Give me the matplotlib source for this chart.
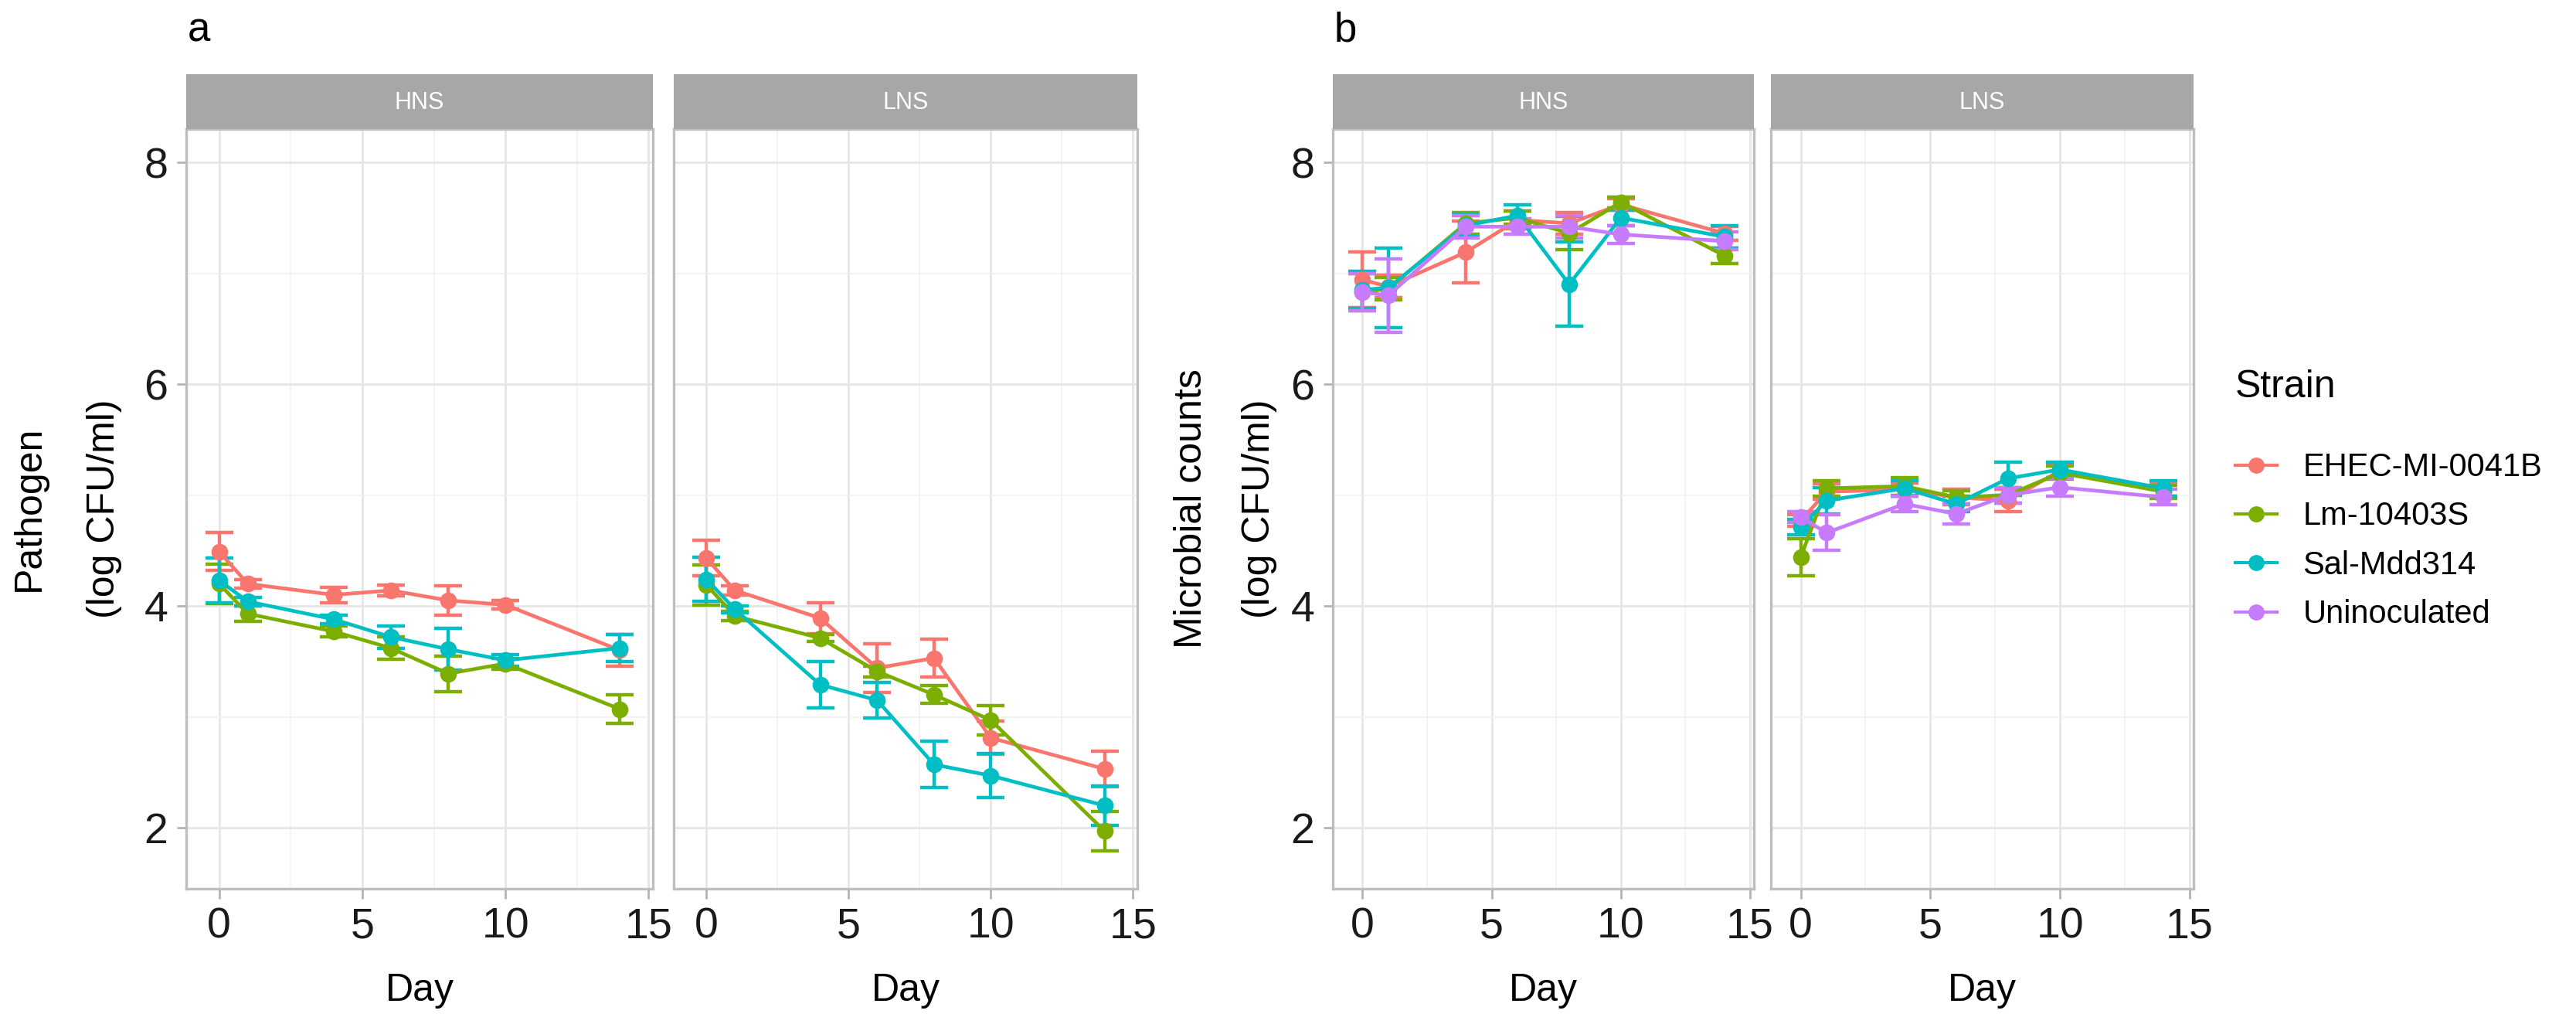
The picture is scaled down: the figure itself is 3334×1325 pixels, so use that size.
import matplotlib
matplotlib.use("Agg")
import matplotlib.pyplot as plt
from matplotlib.lines import Line2D
from matplotlib.ticker import MultipleLocator

plt.rcParams['font.family'] = ['Liberation Sans', 'DejaVu Sans']

# ---------------- data ----------------
days = [0, 1, 4, 6, 8, 10, 14]
strains = ["EHEC-MI-0041B", "Lm-10403S", "Sal-Mdd314", "Uninoculated"]
colors = ["#F8766D", "#7CAE00", "#00BFC4", "#C77CFF"]
facets = ["HNS", "LNS"]

# Panel a: pathogen counts (mean, sd)
a_hns_ehec = [4.49, 4.20, 4.10, 4.14, 4.05, 4.01, 3.60]
a_hns_ehec_sd = [0.17, 0.04, 0.07, 0.05, 0.13, 0.04, 0.14]
a_hns_lm = [4.20, 3.93, 3.77, 3.62, 3.39, 3.48, 3.07]
a_hns_lm_sd = [0.18, 0.07, 0.05, 0.10, 0.16, 0.05, 0.13]
a_hns_sal = [4.23, 4.04, 3.88, 3.72, 3.61, 3.51, 3.62]
a_hns_sal_sd = [0.20, 0.04, 0.04, 0.10, 0.19, 0.05, 0.12]

a_lns_ehec = [4.43, 4.14, 3.89, 3.44, 3.53, 2.81, 2.53]
a_lns_ehec_sd = [0.16, 0.04, 0.14, 0.22, 0.17, 0.15, 0.16]
a_lns_lm = [4.19, 3.91, 3.71, 3.41, 3.20, 2.97, 1.97]
a_lns_lm_sd = [0.18, 0.04, 0.03, 0.05, 0.08, 0.13, 0.18]
a_lns_sal = [4.24, 3.97, 3.29, 3.15, 2.57, 2.47, 2.20]
a_lns_sal_sd = [0.20, 0.03, 0.21, 0.16, 0.21, 0.20, 0.18]

# Panel b: microbial counts (mean, sd)
b_hns_ehec = [6.94, 6.88, 7.19, 7.48, 7.45, 7.62, 7.36]
b_hns_ehec_sd = [0.25, 0.10, 0.28, 0.08, 0.10, 0.05, 0.06]
b_hns_lm = [6.83, 6.86, 7.45, 7.50, 7.36, 7.64, 7.16]
b_hns_lm_sd = [0.17, 0.10, 0.10, 0.06, 0.15, 0.05, 0.07]
b_hns_sal = [6.85, 6.87, 7.43, 7.52, 6.90, 7.50, 7.33]
b_hns_sal_sd = [0.17, 0.36, 0.10, 0.10, 0.38, 0.07, 0.10]
b_hns_un = [6.83, 6.80, 7.42, 7.42, 7.42, 7.35, 7.29]
b_hns_un_sd = [0.17, 0.33, 0.10, 0.07, 0.10, 0.08, 0.08]

b_lns_ehec = [4.77, 5.03, 5.05, 4.98, 4.95, 5.22, 5.05]
b_lns_ehec_sd = [0.05, 0.07, 0.06, 0.07, 0.10, 0.06, 0.06]
b_lns_lm = [4.44, 5.06, 5.08, 4.98, 5.00, 5.20, 5.03]
b_lns_lm_sd = [0.17, 0.07, 0.08, 0.06, 0.07, 0.06, 0.06]
b_lns_sal = [4.71, 4.95, 5.06, 4.92, 5.15, 5.23, 5.06]
b_lns_sal_sd = [0.07, 0.12, 0.07, 0.07, 0.15, 0.07, 0.07]
b_lns_un = [4.80, 4.66, 4.92, 4.83, 5.00, 5.07, 4.98]
b_lns_un_sd = [0.05, 0.16, 0.07, 0.09, 0.07, 0.08, 0.07]

panel_a = {
    "HNS": [(a_hns_ehec, a_hns_ehec_sd), (a_hns_lm, a_hns_lm_sd), (a_hns_sal, a_hns_sal_sd), None],
    "LNS": [(a_lns_ehec, a_lns_ehec_sd), (a_lns_lm, a_lns_lm_sd), (a_lns_sal, a_lns_sal_sd), None],
}
panel_b = {
    "HNS": [(b_hns_ehec, b_hns_ehec_sd), (b_hns_lm, b_hns_lm_sd), (b_hns_sal, b_hns_sal_sd), (b_hns_un, b_hns_un_sd)],
    "LNS": [(b_lns_ehec, b_lns_ehec_sd), (b_lns_lm, b_lns_lm_sd), (b_lns_sal, b_lns_sal_sd), (b_lns_un, b_lns_un_sd)],
}

# ---------------- layout ----------------
W, H = 3334, 1325
DPI = 200
fig = plt.figure(figsize=(W / DPI, H / DPI), dpi=DPI)

panel_top, panel_bot = 167, 1150
strip_top = 96

def fx(px):
    return px / W

def fy(py):
    return 1 - py / H

def make_axes(x0, x1):
    ax = fig.add_axes([fx(x0), fy(panel_bot), fx(x1) - fx(x0), (panel_bot - panel_top) / H])
    sax = fig.add_axes([fx(x0), fy(panel_top), fx(x1) - fx(x0), (panel_top - strip_top) / H])
    return ax, sax

GRID_MAJ = "#E6E6E6"
GRID_MIN = "#F1F1F1"
BORDER = "#BEBEBE"

def style(ax, sax, label, show_y):
    ax.set_xlim(-1.15, 15.15)
    ax.set_ylim(1.45, 8.30)
    ax.xaxis.set_major_locator(MultipleLocator(5))
    ax.xaxis.set_minor_locator(MultipleLocator(2.5))
    ax.yaxis.set_major_locator(MultipleLocator(2))
    ax.yaxis.set_minor_locator(MultipleLocator(1))
    ax.grid(which="major", color=GRID_MAJ, linewidth=1.0, zorder=0)
    ax.grid(which="minor", color=GRID_MIN, linewidth=0.6, zorder=0)
    ax.set_axisbelow(True)
    for s in ax.spines.values():
        s.set_color(BORDER)
        s.set_linewidth(1.2)
    ax.tick_params(which="minor", length=0)
    ax.tick_params(which="major", length=4.5, width=1.0, color="#B3B3B3",
                   labelsize=20, labelcolor="#1A1A1A", pad=4)
    if not show_y:
        ax.tick_params(axis="y", which="major", length=0, labelleft=False)
    ax.set_xlabel("Day", fontsize=18, labelpad=12, color="black")
    sax.set_facecolor("#A7A7A7")
    sax.set_xticks([])
    sax.set_yticks([])
    for s in sax.spines.values():
        s.set_visible(False)
    sax.text(0.5, 0.48, label, transform=sax.transAxes, ha="center", va="center",
             color="white", fontsize=11)

def draw(ax, series):
    for (item, c) in zip(series, colors):
        if item is None:
            continue
        vals, sd = item
        ax.errorbar(days, vals, yerr=sd, color=c, marker="o", markersize=6.8,
                    linewidth=1.7, elinewidth=1.6, capsize=6.5, capthick=1.6, zorder=3)

# Panel a
ax_a1, s_a1 = make_axes(241, 845)
ax_a2, s_a2 = make_axes(872, 1472)
draw(ax_a1, panel_a["HNS"])
draw(ax_a2, panel_a["LNS"])
style(ax_a1, s_a1, "HNS", True)
style(ax_a2, s_a2, "LNS", False)

# Panel b
ax_b1, s_b1 = make_axes(1725, 2270)
ax_b2, s_b2 = make_axes(2292, 2839)
draw(ax_b1, panel_b["HNS"])
draw(ax_b2, panel_b["LNS"])
style(ax_b1, s_b1, "HNS", True)
style(ax_b2, s_b2, "LNS", False)

# y-axis titles
fig.text(fx(38), fy(658), "Pathogen", rotation=90, ha="center", va="center", fontsize=18)
fig.text(fx(135), fy(658), "(log CFU/ml)", rotation=90, ha="center", va="center", fontsize=18)
fig.text(fx(1542), fy(658), "Microbial counts", rotation=90, ha="center", va="center", fontsize=18)
fig.text(fx(1630), fy(658), "(log CFU/ml)", rotation=90, ha="center", va="center", fontsize=18)

# panel letters
fig.text(fx(243), fy(40), "a", ha="left", va="center", fontsize=19)
fig.text(fx(1727), fy(40), "b", ha="left", va="center", fontsize=19)

# legend
handles = [Line2D([0], [0], color=c, marker="o", markersize=6.5, linewidth=1.5) for c in colors]
leg = fig.legend(handles, strains, loc="upper left", bbox_to_anchor=(fx(2893), fy(478)),
                 frameon=False, fontsize=15, title="Strain", title_fontsize=18,
                 handlelength=1.3, handletextpad=0.8, labelspacing=0.56, alignment="left",
                 borderaxespad=0, borderpad=0)
leg._legend_box.sep = 22

fig.savefig("out.png", dpi=DPI, facecolor="white")
